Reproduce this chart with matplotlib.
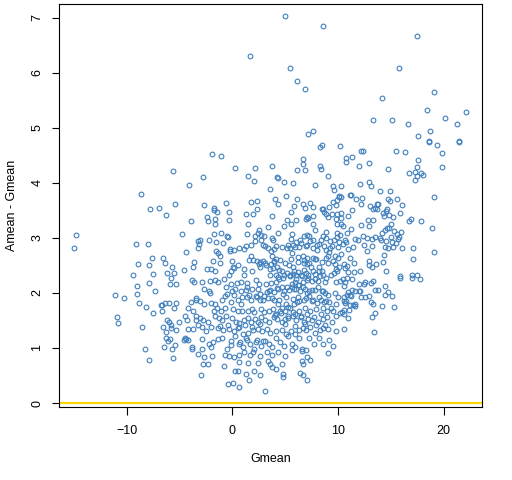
import matplotlib
matplotlib.use("Agg")
import matplotlib.pyplot as plt
import numpy as np

plt.rcParams['font.family'] = ['Liberation Sans', 'DejaVu Sans']

# Outer / sparse points (Gmean, Amean - Gmean)
gmean_outer = [5.01, 8.61, 1.70, 5.49, 6.15, 6.91, 7.66, 7.19,
               17.50, 15.80, 19.11, 14.19, 18.45, 22.14, 13.34, 15.14, 20.15, 21.29, 16.65, 18.73, 17.6, 18.64, 21.48,
               -5.58, -4.07, -8.61, -5.39, -7.76, -6.91, -6.24, -3.88, -14.76, -4.73, -14.95, -9.08, -7.95, -4.35, -3.22,
               -7.57, -6.53, -6.34, -8.89, -7.85, -5.68, -3.60, -3.69, -4.54, -9.37, -7.47, -6.15, -5.49, -3.22]
diff_outer = [7.03, 6.85, 6.30, 6.09, 5.85, 5.70, 4.94, 4.89,
              6.67, 6.09, 5.65, 5.54, 5.32, 5.29, 5.14, 5.14, 5.18, 5.07, 5.07, 4.94, 4.85, 4.76, 4.76,
              4.21, 3.96, 3.79, 3.61, 3.52, 3.54, 3.41, 3.30, 3.05, 3.07, 2.81, 2.89, 2.89, 2.74, 2.81,
              2.63, 2.63, 2.54, 2.52, 2.50, 2.47, 2.56, 2.47, 2.41, 2.32, 2.34, 2.36, 2.36, 2.95]

# Lower-left region
gmean_left = [-7.85, -8.99, -5.77, -5.87, -5.30, -3.78, -3.60, -7.28, -11.07, -8.99, -10.22, -3.41, -3.41,
              -8.80, -6.34, -5.96, -5.30, -3.88, -6.72, -6.62, -8.14, -5.49, -4.16, -6.62, -3.69, -7.47,
              -4.45, -3.41, -10.88, -10.78, -6.15, -5.96, -4.26, -5.01, -3.41, -3.27, -8.51, -6.53, -5.77,
              -5.77, -5.30, -4.16, -3.69, -6.24, -6.24, -5.87, -6.05, -4.54, -4.35, -4.45, -4.16, -5.39,
              -6.43, -5.68, -3.78, -3.78, -8.23, -7.85, -5.58, -3.27]
diff_left = [2.18, 2.12, 2.27, 2.16, 2.16, 2.23, 2.19, 2.03, 1.96, 1.98, 1.90, 1.90, 1.87,
             1.81, 1.81, 1.81, 1.81, 1.83, 1.78, 1.78, 1.74, 1.72, 1.72, 1.67, 1.67, 1.63,
             1.59, 1.59, 1.56, 1.45, 1.50, 1.47, 1.50, 1.47, 1.50, 1.41, 1.39, 1.38, 1.41,
             1.36, 1.32, 1.34, 1.34, 1.29, 1.18, 1.16, 1.12, 1.14, 1.16, 1.18, 1.14, 1.05,
             1.01, 0.99, 1.01, 0.99, 0.98, 0.79, 0.81, 0.89]

# Right region
gmean_right = [15.89, 17.03, 17.79, 10.50, 11.35, 10.88, 10.69, 10.6, 12.02, 12.58, 12.49, 13.15, 13.34,
               14.47, 10.97, 11.35, 11.64, 12.02, 12.11, 13.53, 13.81, 14.76, 14.47, 15.14, 10.6, 10.88,
               11.16, 11.26, 12.2, 12.58, 12.96, 10.6, 10.79, 10.69, 13.15, 13.34, 14.19, 15.33, 11.16,
               11.45, 11.64, 11.64, 10.41, 10.6, 11.07, 10.6, 10.97, 13.53, 13.25, 10.6, 13.43,
               18.64, 19.39, 21.48, 12.2, 12.39, 15.52, 16.37, 19.87, 10.79, 10.79, 11.35, 12.02, 12.96,
               14.76, 17.6, 17.5, 19.87, 16.75, 17.31, 17.88, 18.07, 17.5, 17.31, 10.28, 12.11, 12.96,
               13.15, 14.0, 14.95, 10.28, 11.16, 11.26, 11.73, 12.3, 12.2, 14.76, 14.95, 15.61, 16.08,
               19.11, 13.06, 13.34, 13.53, 13.72, 13.81, 13.72, 14.57, 14.66, 14.29, 14.85, 14.38, 15.23,
               15.89, 11.35, 10.97, 10.28, 10.28, 16.75, 16.93, 17.88, 12.87, 13.34, 12.2, 12.96, 15.04,
               14.85, 18.92, 10.28, 10.5, 11.26, 10.88, 14.19, 14.47, 14.66, 15.33, 15.61, 15.99, 15.7,
               15.8, 11.64, 11.92, 12.39, 12.77, 13.25, 13.53, 14.0, 14.1, 14.57, 15.04, 15.14, 15.52,
               16.08, 17.12, 19.11, 10.69, 10.79, 10.5, 11.45, 10.97, 12.49, 13.25, 12.77, 14.47, 14.76,
               15.23, 10.28, 11.16, 10.6, 10.88, 10.69, 11.54, 12.96, 12.96, 13.25, 13.62, 14.29, 14.38,
               17.12, 15.89, 17.03, 17.5, 12.11, 11.54, 10.97, 14.57]
diff_right = [2.28, 2.28, 2.26, 2.25, 2.25, 2.27, 2.19, 2.12, 2.16, 2.19, 2.16, 2.18, 2.21,
              2.12, 2.01, 2.05, 2.03, 2.03, 2.03, 2.05, 2.05, 2.01, 1.96, 1.94, 1.92, 1.96,
              1.96, 1.94, 1.92, 1.92, 1.94, 1.85, 1.85, 1.81, 1.83, 1.79, 1.76, 1.74, 1.78,
              1.78, 1.76, 1.79, 1.65, 1.69, 1.69, 1.61, 1.54, 1.63, 1.56, 1.34, 1.29,
              4.74, 4.69, 4.74, 4.58, 4.58, 4.58, 4.56, 4.54, 4.45, 4.38, 4.47, 4.30, 4.36,
              4.25, 4.41, 4.29, 4.29, 4.18, 4.19, 4.18, 4.14, 4.12, 4.05, 3.95, 3.98, 4.01,
              3.94, 3.85, 3.85, 3.74, 3.78, 3.78, 3.70, 3.72, 3.61, 3.70, 3.67, 3.70, 3.59,
              3.74, 3.58, 3.52, 3.54, 3.61, 3.61, 3.52, 3.49, 3.52, 3.45, 3.41, 3.39, 3.38,
              3.45, 3.50, 3.39, 3.45, 3.36, 3.30, 3.34, 3.30, 3.32, 3.32, 3.23, 3.21, 3.25,
              3.18, 3.18, 3.25, 3.21, 3.16, 3.09, 3.09, 3.14, 3.18, 3.12, 3.07, 3.10, 2.98,
              3.01, 2.98, 2.96, 3.03, 2.99, 2.98, 3.01, 2.99, 2.96, 2.94, 3.01, 2.92, 2.90,
              2.81, 2.81, 2.74, 2.96, 2.92, 2.89, 2.83, 2.79, 2.87, 2.85, 2.76, 2.83, 2.81,
              2.83, 2.70, 2.63, 2.52, 2.49, 2.45, 2.54, 2.58, 2.50, 2.47, 2.52, 2.56, 2.69,
              2.61, 2.30, 2.32, 2.32, 2.39, 2.38, 2.38, 2.39]

# Upper-centre region
gmean_upper = [8.33, 8.51, 10.22, -1.89, -1.04, 6.72, 6.72, 6.15, 6.91, 0.28, 2.18, 3.78, 8.33, 8.42,
               -2.74, 1.51, 2.08, 4.26, 4.35, 4.92, 5.77, 7.85, 9.08, 9.56, 9.65, 10.12, 3.6,
               5.11, 4.07, 4.35, 1.80, 2.37, -0.57, -2.65, 6.15, 6.72, 7.38, 7.66, 8.51, 9.18, 9.56,
               9.84, 9.93, 10.12, -1.70, -1.70, -1.42, -2.37, -2.27, -1.61, -1.61, -0.28, -0.28, 1.32,
               1.99, 2.37, 3.78, 5.58, 5.87, 6.91, 7.10, 7.0, 7.66, 8.61, 8.70, 8.89, 9.08, 9.46, 9.93,
               9.84, 5.2, 6.05, 5.58, 4.92, 1.51, 3.41, 4.35, 2.55, 2.46, 2.74, 2.18, 1.42, -1.04,
               -1.70, -0.47, -0.38, -2.18, -1.51, -0.85, -3.03, -3.15,
               7.19, 7.67, 7.86, 8.90, 9.94, 9.94, 10.22, 9.94, 9.65, 9.27, 8.61, 8.90, 8.42, 7.67,
               7.10, 6.82, 7.38, 7.29, 5.68, 5.59, 6.44, 6.06, 5.77, 5.21, 5.49, 6.34, 7.10, 8.04,
               8.04, 8.90, 9.27, 9.18, 9.75, 9.56, 9.46, 10.13, 10.03, 5.68, 6.25, 6.72, 7.10, 7.67,
               7.86, 8.90, 9.09, 10.03, 9.75, 10.13, 8.23, 8.52, 7.48, 6.82, 7.10, 7.67, 8.23, 7.00,
               6.82, 6.25, 5.77, 5.40, 5.21, 4.73, 4.45, 3.60, 3.88, 4.26, 4.17, 3.79, 3.69, 3.98,
               3.41, 3.13, 2.94, 3.79, 3.88, 3.03, 2.75, 2.18, 1.80, 1.33, 1.14, 0.67, 0.19, -0.19,
               -0.19, -1.51, -1.32, -1.13, -1.79, -1.13, 0.00, 0.10, 0.57, 1.80, 1.61, 1.99, 2.37,
               2.65, 2.94, 3.13, 3.22, 3.69, 3.98, 2.56, 2.65, 3.60, 4.17, 4.92, 5.49, 5.77, 5.87,
               6.06, 6.53, 7.19, 7.86, 8.61, 9.37, 9.65, 9.84, 9.94, 1.14, 0.19, -0.09, -0.28,
               -2.36, -1.98, -1.61, 1.90, 1.14]
diff_upper = [4.65, 4.69, 4.67, 4.52, 4.49, 4.43, 4.34, 4.23, 4.23, 4.27, 4.27, 4.30, 4.30, 4.25,
              4.10, 4.12, 4.03, 4.10, 4.09, 4.01, 4.00, 3.96, 4.12, 3.94, 3.87, 3.74, 3.89,
              3.76, 3.70, 3.61, 3.65, 3.67, 3.63, 3.59, 3.70, 3.61, 3.63, 3.56, 3.52, 3.56, 3.65,
              3.59, 3.69, 3.76, 3.54, 3.50, 3.47, 3.38, 3.30, 3.34, 3.25, 3.47, 3.32, 3.43,
              3.43, 3.52, 3.39, 3.47, 3.58, 3.54, 3.38, 3.34, 3.39, 3.52, 3.47, 3.43, 3.38, 3.43, 3.43,
              3.34, 3.32, 3.32, 3.25, 3.21, 3.25, 3.19, 3.09, 3.14, 3.09, 3.05, 3.03, 3.07, 3.09,
              3.07, 3.03, 3.01, 2.96, 2.92, 2.90, 2.96, 2.89,
              3.36, 3.25, 3.14, 3.10, 3.25, 3.08, 3.05, 3.01, 2.96, 2.94, 3.03, 2.99, 2.96, 2.96,
              3.05, 3.03, 2.94, 3.03, 3.07, 2.98, 2.96, 2.92, 2.88, 2.81, 2.81, 2.83, 2.87, 2.87,
              2.78, 2.78, 2.81, 2.74, 2.68, 2.58, 2.85, 2.92, 2.83, 2.72, 2.65, 2.68, 2.63, 2.63,
              2.61, 2.63, 2.67, 2.63, 2.52, 2.48, 2.48, 2.39, 2.48, 2.54, 2.52, 2.39, 2.39, 2.36,
              2.41, 2.38, 2.48, 2.50, 2.36, 2.39, 2.41, 2.43, 2.45, 2.48, 2.61, 2.68, 2.76, 2.79,
              2.81, 2.85, 2.88, 2.99, 2.96, 3.03, 2.96, 2.94, 2.88, 2.85, 2.79, 2.81, 2.78, 2.79,
              2.76, 2.76, 2.72, 2.67, 2.58, 2.54, 2.58, 2.48, 2.50, 2.67, 2.59, 2.59, 2.58,
              2.56, 2.58, 2.54, 2.50, 2.52, 2.58, 2.52, 2.47, 2.32, 2.32, 2.32, 2.32, 2.34, 2.39,
              2.32, 2.32, 2.32, 2.34, 2.32, 2.32, 2.36, 2.43, 2.39, 2.43, 2.45, 2.39, 2.32,
              2.43, 2.43, 2.39, 2.39, 2.32]

# Dense centre region
gmean_centre = [-2.84, -2.08, -1.61, -1.32, -0.75, -0.09, 0.48, 0.85, 1.42, 1.42, 2.27, 2.56, 3.22, 3.69,
                4.17, 4.45, 4.73, 5.68, 5.96, 6.25, 6.72, 7.10, 7.57, 8.14, 8.80, 9.84, 10.22, -2.65,
                -2.17, -2.08, -0.56, -0.47, 0.00, 0.29, 0.85, 1.33, 1.90, 2.46, 2.65, 3.31, 3.50, 3.98,
                4.36, 4.83, 5.40, 5.68, 6.06, 6.34, 6.72, 7.10, 7.29, 7.86, 8.52, 8.80, 9.09, 9.75, 10.03,
                -3.02, -2.65, -1.98, -1.61, -0.94, -0.66, -0.09, 0.57, 0.85, 1.42, 1.80, 2.27, 2.65, 2.94,
                3.41, 3.98, 4.36, 4.73, 5.11, 5.30, 5.87, 6.15, 6.25, 6.82, 7.29, 7.57, 8.04, 8.42, 8.71,
                9.18, 9.37, 9.84, -1.70, -1.41, -1.04, 0.10, 0.57, 0.95, 1.52, 1.90, 2.08, 2.75, 3.03,
                3.50, 3.88, 4.17, 4.54, 5.02, 5.49, 5.77, 6.34, 6.91, 7.38, 7.95, 8.61, 8.99, 9.56, 10.22,
                -3.02, -2.74, -2.27, -1.61, -1.23, -0.94, -0.56, 0.00, 0.38, 0.67, 1.14, 1.52, 1.80, 2.18,
                2.46, 2.75, 3.13, 3.50, 3.98, 4.26, 4.73, 5.02, 5.30, 5.77, 6.06, 6.53, 6.82, 7.19, 7.57,
                8.14, 8.61, 8.99, 9.46, 9.84, -2.84, -2.46, -1.98, -1.32, -0.85, -0.28, 0.19, 0.57, 1.04,
                1.52, 1.99, 2.46, 2.84, 3.31, 3.60, 4.17, 4.73, 5.11, 5.59, 5.96, 6.34, 6.72, 7.00, 7.38,
                7.86, 8.33, 8.61, 9.09, 9.84,
                -2.84, -2.17, -1.98, -1.79, -1.32, -0.94, -0.47, -0.09, 0.29, 0.67, 1.04, 1.33, 1.71, 2.08,
                2.37, 2.75, 3.13, 3.50, 3.79, 4.17, 4.54, 4.92, 5.30, 5.68, 5.96, 6.34, 6.62, 7.00, 7.29,
                7.76, 8.23, 8.61, 9.18, 9.56, 9.09, -2.84, -2.65, -2.74, -2.27, -1.89, -0.66, -0.28, 0.19,
                0.67, 1.14, 1.71, 1.99, 2.65, 3.31, 3.79, 4.36, 5.02, 5.68, 6.62, 7.10, 7.38,
                -0.75, 0.67, 1.52, 2.08, 2.46, 2.65, 3.41, 3.60, 3.79, 4.17, 4.73, 4.83, 4.83, 6.44, 6.72,
                6.72, 6.62, 7.10, 0.29, 0.57, 1.33, 1.61, -0.38, 0.10, 0.67, -2.93, 3.13]
diff_centre = [2.19, 2.21, 2.23, 2.19, 2.25, 2.16, 2.18, 2.19, 2.18, 2.10, 2.23, 2.16, 2.16, 2.18,
               2.19, 2.25, 2.10, 2.16, 2.19, 2.14, 2.19, 2.23, 2.21, 2.21, 2.19, 2.19, 2.21, 2.07,
               2.03, 1.99, 2.10, 1.98, 2.03, 2.07, 2.03, 2.05, 2.07, 2.08, 1.98, 2.01, 2.03, 2.01,
               2.07, 1.98, 2.05, 2.10, 2.07, 2.14, 2.10, 1.99, 2.03, 2.05, 2.03, 1.99, 1.96, 1.99, 1.92,
               1.85, 1.79, 1.81, 1.79, 1.88, 1.72, 1.83, 1.87, 1.79, 1.92, 1.87, 1.94, 1.87, 1.88,
               1.90, 1.87, 1.79, 1.72, 1.79, 1.74, 1.79, 1.83, 1.92, 1.87, 1.94, 1.85, 1.81, 1.87, 1.83,
               1.83, 1.72, 1.79, 1.67, 1.72, 1.68, 1.70, 1.67, 1.68, 1.68, 1.70, 1.65, 1.70, 1.65,
               1.67, 1.70, 1.61, 1.68, 1.67, 1.72, 1.65, 1.68, 1.72, 1.68, 1.70, 1.72, 1.68, 1.68, 1.63,
               1.54, 1.50, 1.47, 1.58, 1.54, 1.50, 1.58, 1.54, 1.48, 1.45, 1.50, 1.54, 1.47, 1.52,
               1.48, 1.56, 1.50, 1.47, 1.56, 1.52, 1.47, 1.52, 1.54, 1.58, 1.50, 1.56, 1.47, 1.52, 1.50,
               1.47, 1.52, 1.56, 1.47, 1.58, 1.38, 1.30, 1.39, 1.36, 1.32, 1.34, 1.30, 1.36, 1.25,
               1.27, 1.32, 1.34, 1.30, 1.34, 1.28, 1.30, 1.32, 1.25, 1.30, 1.25, 1.32, 1.36, 1.32, 1.39,
               1.28, 1.32, 1.36, 1.34, 1.30,
               1.16, 1.08, 1.01, 1.10, 1.16, 1.18, 0.99, 1.05, 1.21, 1.07, 1.01, 1.19, 1.08, 0.98,
               1.14, 1.03, 1.12, 1.07, 1.01, 1.18, 1.10, 1.03, 1.21, 1.07, 1.01, 1.18, 0.98, 0.96, 1.19,
               1.07, 1.19, 1.08, 1.14, 1.03, 0.90, 0.99, 0.83, 0.70, 0.70, 0.85, 0.87, 0.85, 0.83,
               0.88, 0.92, 0.87, 0.92, 0.85, 0.92, 0.87, 0.92, 0.85, 0.96, 0.94, 0.83, 0.79,
               0.67, 0.74, 0.72, 0.58, 0.72, 0.50, 0.76, 0.70, 0.65, 0.61, 0.70, 0.52, 0.48, 0.54, 0.50,
               0.70, 0.76, 0.41, 0.58, 0.58, 0.52, 0.41, 0.34, 0.36, 0.30, 0.50, 0.21]

# Extra points estimated in the most crowded part of the cloud
gmean_dense = [4.1, 4.7, 5.3, 5.9, 6.5, 7.0, 7.6, 8.2, 8.7,
               3.9, 4.5, 5.0, 5.6, 6.2, 6.8, 7.3, 7.9, 8.5, 9.1,
               4.3, 4.8, 5.5, 6.0, 6.6, 7.2, 7.8, 8.3, 8.9,
               3.6, 4.2, 4.9, 5.2, 5.8, 6.4, 6.9, 7.5, 8.1, 8.6,
               3.8, 4.4, 5.1, 5.7, 6.3, 7.0, 7.6, 8.2, 8.9,
               4.0, 4.6, 5.3, 5.9, 6.5, 7.1, 7.7, 8.4,
               -0.7, 0.2, 0.9, 1.6, 2.3, 3.0,
               -1.2, -0.4, 0.6, 1.2, 1.9, 2.6,
               -0.1, 0.7, 1.4, 2.2, 2.9,
               5.0, 5.9, 6.9, 7.9, 8.8]
diff_dense = [2.86, 2.83, 2.88, 2.84, 2.90, 2.86, 2.82, 2.89, 2.85,
              2.57, 2.60, 2.55, 2.62, 2.56, 2.59, 2.54, 2.61, 2.57, 2.55,
              2.29, 2.27, 2.31, 2.26, 2.30, 2.28, 2.25, 2.30, 2.27,
              2.06, 2.09, 2.04, 2.10, 2.07, 2.03, 2.08, 2.06, 2.10, 2.04,
              1.90, 1.87, 1.92, 1.89, 1.86, 1.91, 1.88, 1.93, 1.86,
              1.60, 1.63, 1.58, 1.62, 1.59, 1.61, 1.57, 1.62,
              1.94, 1.96, 1.92, 1.97, 1.93, 1.95,
              1.40, 1.42, 1.38, 1.41, 1.39, 1.43,
              1.13, 1.10, 1.14, 1.11, 1.12,
              1.43, 1.40, 1.44, 1.41, 1.42]

gmean = gmean_outer + gmean_left + gmean_right + gmean_upper + gmean_centre + gmean_dense
diff = diff_outer + diff_left + diff_right + diff_upper + diff_centre + diff_dense

x_ticks = [-10, 0, 10, 20]
y_ticks = [0, 1, 2, 3, 4, 5, 6, 7]

fig = plt.figure(figsize=(5.12, 4.8), dpi=100)
ax = fig.add_axes([0.1158, 0.1527, 0.825, 0.839])

ax.plot(gmean, diff, linestyle='none', marker='o', markersize=3.4,
        markerfacecolor='none', markeredgecolor='#3f7fbd', markeredgewidth=0.8)
ax.axhline(0, color='#ffd700', linewidth=1.6, zorder=0)

ax.set_xlim(-16.37, 23.6)
ax.set_ylim(-0.067, 7.25)
ax.set_xticks(x_ticks)
ax.set_yticks(y_ticks)
ax.set_yticklabels([str(v) for v in y_ticks], rotation=90, va='center')
ax.tick_params(axis='x', direction='out', length=5.4, width=0.8, labelsize=9, pad=8)
ax.tick_params(axis='y', direction='out', length=5.4, width=0.8, labelsize=9, pad=6)
for s in ax.spines.values():
    s.set_linewidth(0.8)
ax.set_xlabel('Gmean', fontsize=9, labelpad=11)
ax.set_ylabel('Amean - Gmean', fontsize=9, labelpad=10)

fig.savefig('out.png', dpi=100)
